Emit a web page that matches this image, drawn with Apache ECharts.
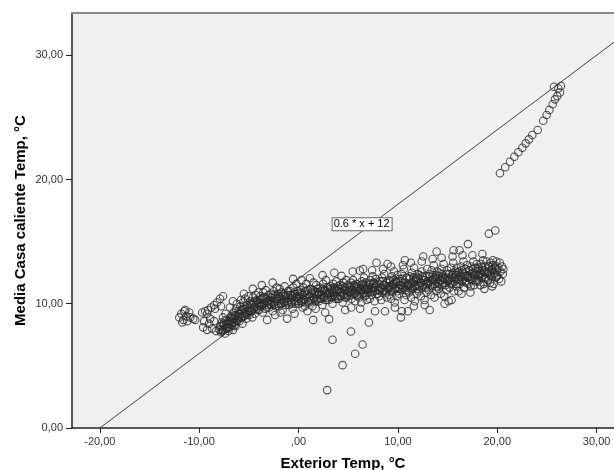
<!DOCTYPE html>
<html>
<head>
<meta charset="utf-8">
<script src="https://cdn.jsdelivr.net/npm/echarts@6/dist/echarts.min.js"></script>
<style>
	html, body { margin: 0; padding: 0; background: #fff; }
	#chart { width: 614px; height: 470px; }
</style>
</head>
<body>
<div id="chart"></div>
<script>
// ticks
var xTicks = [-20, -10, 0, 10, 20, 30];
var yTicks = [0, 10, 20, 30];

// reference line 0.6 * x + 12 (end points)
var fitLine = [[-20, 0], [32, 31.2]];
var fitLabel = '0.6 * x + 12';
var fitLabelAt = [6.4, 16.4];

// small cold cluster at the far left
var coldCluster = [
	[-12.0,8.9],[-11.8,9.2],[-11.6,8.7],[-11.5,9.4],[-11.3,9.0],[-11.2,8.6],[-11.0,9.3],[-10.9,8.9],
	[-10.6,8.8],[-11.7,8.5],[-11.4,9.5],[-10.4,8.7]
];

// main band, loose part
var mainBand = [
	// arms at the left end
	[-9.7,9.3],[-9.4,9.4],[-9.1,9.5],[-8.8,9.7],[-8.5,9.9],[-8.2,10.1],[-7.9,10.4],[-7.6,10.6],[-7.8,9.8],[-8.4,9.6],[-9.2,9.2],
	[-9.6,8.1],[-9.5,8.6],[-9.2,7.9],[-9.0,8.4],[-8.7,8.0],[-8.5,8.6],[-8.3,7.8],[-8.9,8.8],
	// -8 .. -7
	[-7.9,8.2],[-7.8,7.7],[-7.7,8.5],[-7.6,7.9],[-7.5,8.3],[-7.4,7.6],[-7.3,8.7],[-7.2,8.0],[-7.1,8.4],[-7.05,7.8],[-7.6,8.9],[-7.35,9.2],
	// -7 .. -6
	[-6.95,8.1],[-6.9,8.6],[-6.8,9.0],[-6.75,8.3],[-6.7,8.8],[-6.6,7.9],[-6.55,9.3],[-6.5,8.5],[-6.4,9.1],[-6.35,8.2],[-6.3,9.6],
	[-6.25,8.7],[-6.2,10.0],[-6.1,8.9],[-6.05,9.4],[-6.6,10.2],[-6.9,9.7],
	// -6 .. -5
	[-5.95,8.6],[-5.9,9.2],[-5.85,9.8],[-5.8,8.9],[-5.7,9.5],[-5.65,8.4],[-5.6,10.1],[-5.5,9.0],[-5.45,9.6],[-5.4,10.4],[-5.3,9.3],
	[-5.25,8.8],[-5.2,9.9],[-5.1,9.4],[-5.05,10.6],[-5.5,10.8],[-5.8,10.3],
	// -5 .. -4
	[-4.95,9.1],[-4.9,9.7],[-4.85,10.2],[-4.8,9.4],[-4.7,10.0],[-4.65,8.9],[-4.6,10.5],[-4.5,9.6],[-4.45,10.1],[-4.4,9.2],[-4.3,10.7],
	[-4.25,9.9],[-4.2,10.3],[-4.1,9.5],[-4.05,10.9],[-4.6,11.2],
	// -4 .. -3
	[-3.95,9.5],[-3.9,10.1],[-3.85,10.6],[-3.8,9.8],[-3.7,10.4],[-3.6,9.3],[-3.55,10.9],[-3.5,10.0],[-3.4,10.5],[-3.35,9.6],[-3.3,11.1],
	[-3.2,10.2],[-3.16,8.7],[-3.1,9.9],[-3.05,10.7],[-3.7,11.5],
	// -3 .. -2
	[-2.95,9.7],[-2.9,10.3],[-2.8,10.8],[-2.75,9.9],[-2.7,10.5],[-2.6,9.4],[-2.5,11.0],[-2.45,10.1],[-2.4,10.6],[-2.3,9.8],[-2.2,11.3],
	[-2.15,10.4],[-2.1,10.0],[-2.05,10.8],[-2.6,11.7],[-2.35,9.1],
	// -2 .. -1
	[-1.95,9.8],[-1.9,11.2],[-1.82,10.4],[-1.75,10.0],[-1.7,10.9],[-1.6,9.5],[-1.52,10.6],[-1.45,10.2],[-1.4,11.4],[-1.3,9.9],[-1.22,10.7],
	[-1.15,8.8],[-1.1,10.1],[-1.05,11.0],[-1.35,10.4],[-1.8,9.3],
	// -1 .. 0
	[-0.95,9.9],[-0.9,10.5],[-0.82,11.0],[-0.75,10.1],[-0.68,10.7],[-0.6,9.6],[-0.52,11.3],[-0.45,10.3],[-0.38,10.8],[-0.3,10.0],[-0.22,11.6],
	[-0.15,10.6],[-0.1,10.2],[-0.05,11.0],[-0.55,12.0],[-0.4,9.2],
	// 0 .. 1
	[0.05,10.0],[0.12,10.6],[0.2,11.1],[0.27,10.2],[0.33,10.8],[0.41,9.7],[0.48,11.3],[0.55,10.4],[0.62,10.9],[0.7,10.1],[0.78,11.6],
	[0.85,10.7],[0.9,9.4],[0.95,11.1],[0.3,11.9],[0.66,9.8],
	// 1 .. 2
	[1.05,10.1],[1.14,12.05],[1.2,11.2],[1.25,10.3],[1.32,10.9],[1.4,9.8],[1.47,8.7],[1.55,10.5],[1.6,11.0],[1.7,10.2],[1.78,11.5],
	[1.85,10.8],[1.9,10.4],[1.95,11.2],[1.5,11.7],[1.72,9.6],
	// 2 .. 3
	[2.05,10.2],[2.1,10.8],[2.2,11.3],[2.25,10.4],[2.33,11.0],[2.4,9.9],[2.48,11.6],[2.55,10.6],[2.6,11.1],[2.7,10.3],[2.76,11.9],
	[2.85,10.9],[2.9,10.5],[2.95,11.3],[2.42,12.3],[2.68,9.3],
	// 3 .. 4
	[3.05,10.3],[3.08,8.76],[3.16,10.9],[3.2,11.4],[3.27,10.5],[3.34,11.1],[3.42,10.0],[3.5,11.6],[3.56,10.7],[3.63,11.2],[3.7,10.4],
	[3.8,11.8],[3.86,11.0],[3.9,10.6],[3.96,11.4],[3.6,12.5],
	// 4 .. 5
	[4.05,10.4],[4.1,11.0],[4.2,11.5],[4.26,10.6],[4.33,12.24],[4.38,11.2],[4.44,10.1],[4.52,11.7],[4.58,10.8],[4.64,11.3],[4.72,10.5],
	[4.8,11.9],[4.86,11.1],[4.92,10.7],[4.97,11.5],[4.7,9.5],
	// 5 .. 6
	[5.03,10.6],[5.12,11.3],[5.18,10.9],[5.27,11.7],[5.33,10.4],[5.41,11.1],[5.48,11.9],[5.56,10.8],[5.62,11.4],[5.71,10.2],[5.77,11.0],
	[5.84,11.6],[5.9,10.7],[5.97,11.2],[5.45,12.6],[5.3,9.7],
	// 6 .. 7
	[6.04,11.0],[6.1,10.5],[6.17,12.67],[6.23,11.2],[6.31,10.1],[6.38,11.8],[6.44,10.8],[6.52,11.4],[6.59,12.1],[6.66,10.6],[6.73,11.1],
	[6.8,11.7],[6.86,10.3],[6.93,11.3],[6.5,12.8],[6.2,9.6],[6.35,11.5],
	// 7 .. 8
	[7.02,10.9],[7.09,11.5],[7.16,10.4],[7.24,11.9],[7.3,11.2],[7.37,10.7],[7.45,12.2],[7.51,11.0],[7.58,11.6],[7.66,10.2],[7.72,11.3],
	[7.79,12.0],[7.85,13.3],[7.7,9.4],[7.93,10.8],[7.4,12.7],
	// 8 .. 9
	[8.03,11.1],[8.11,10.6],[8.18,11.8],[8.26,11.3],[8.33,10.3],[8.4,12.1],[8.47,10.9],[8.55,11.5],[8.62,12.4],[8.7,9.4],[8.76,11.0],
	[8.84,11.7],[8.9,10.5],[8.96,13.2],[8.98,11.2],[8.5,12.8],
	// 9 .. 10
	[9.04,11.2],[9.12,10.7],[9.19,11.9],[9.25,11.4],[9.33,10.4],[9.4,12.2],[9.47,11.0],[9.54,11.6],[9.61,12.6],[9.68,10.1],[9.75,11.3],
	[9.82,11.8],[9.9,10.6],[9.96,12.3],[9.3,13.0],[9.7,9.7],
	// 10 .. 11
	[10.03,11.3],[10.1,10.8],[10.17,12.0],[10.24,11.5],[10.3,8.9],[10.38,12.4],[10.4,9.4],[10.46,11.1],[10.53,11.7],[10.6,12.8],
	[10.67,10.3],[10.7,13.5],[10.77,11.4],[10.84,10.7],[10.9,12.1],[10.97,11.0],[10.5,13.1],
	// 11 .. 12
	[11.0,9.4],[11.05,11.4],[11.12,10.9],[11.2,12.2],[11.27,11.6],[11.34,10.5],[11.41,12.5],[11.48,11.2],[11.56,11.8],[11.63,12.9],
	[11.7,10.2],[11.77,11.5],[11.84,12.1],[11.9,10.8],[11.97,12.4],[11.3,13.3],[11.6,9.8],
	// 12 .. 13
	[12.04,11.5],[12.1,11.0],[12.18,12.3],[12.25,11.7],[12.32,10.6],[12.4,12.6],[12.46,11.3],[12.55,13.8],[12.6,11.9],[12.68,10.3],
	[12.74,12.2],[12.81,11.6],[12.88,10.9],[12.95,12.8],[12.4,13.4],[12.7,9.9],
	// 13 .. 14
	[13.03,11.6],[13.1,11.1],[13.17,12.4],[13.2,9.5],[13.26,11.8],[13.33,10.7],[13.4,12.7],[13.47,11.4],[13.54,12.0],[13.61,13.1],
	[13.68,10.5],[13.75,11.9],[13.82,12.3],[13.88,11.0],[13.9,14.2],[13.96,12.6],[13.5,13.6],
	// 14 .. 15
	[14.04,11.7],[14.11,11.2],[14.18,12.5],[14.25,11.9],[14.32,10.8],[14.39,12.8],[14.46,11.5],[14.53,12.1],[14.6,13.2],[14.67,10.6],
	[14.74,12.0],[14.81,12.4],[14.88,11.1],[14.95,12.7],[14.4,13.7],[14.7,10.0],
	// 15 .. 16
	[15.03,11.8],[15.1,10.2],[15.12,12.4],[15.2,11.3],[15.27,12.0],[15.4,10.3],[15.35,12.9],[15.43,11.6],[15.5,12.3],[15.57,13.3],
	[15.6,14.3],[15.64,11.0],[15.72,12.1],[15.79,12.6],[15.86,11.4],[15.93,12.9],[15.5,13.8],
	// 16 .. 17
	[16.02,12.0],[16.1,11.0],[16.16,12.6],[16.2,14.3],[16.24,11.6],[16.31,12.3],[16.38,13.0],[16.45,11.8],[16.52,12.5],[16.6,13.4],
	[16.67,11.3],[16.74,12.2],[16.81,12.8],[16.88,11.7],[16.95,13.1],[16.5,13.9],[16.4,10.8],
	// 17 .. 18
	[17.03,12.1],[17.05,14.8],[17.11,11.6],[17.18,12.7],[17.25,12.2],[17.32,11.4],[17.39,13.0],[17.46,11.9],[17.53,12.5],[17.6,13.4],
	[17.67,11.5],[17.74,12.3],[17.81,12.9],[17.88,11.8],[17.95,13.2],[17.5,13.9],[17.3,10.9],
	// 18 .. 19
	[18.02,12.3],[18.09,11.8],[18.16,12.9],[18.23,12.4],[18.3,11.5],[18.37,13.2],[18.44,12.1],[18.51,12.7],[18.58,13.5],[18.65,11.6],
	[18.72,12.5],[18.79,13.0],[18.86,12.0],[18.93,13.4],[18.5,14.0],[18.7,11.2],
	// 19 .. 20.6
	[19.02,12.4],[19.08,11.9],[19.15,13.0],[19.16,15.64],[19.21,12.6],[19.28,11.7],[19.35,13.3],[19.42,12.2],[19.49,12.8],[19.56,13.5],
	[19.63,11.6],[19.7,12.5],[19.77,13.1],[19.8,15.9],[19.84,12.1],[19.91,13.4],[19.96,12.7],[19.5,11.4],
	[20.03,12.3],[20.1,12.9],[20.18,12.0],[20.25,13.3],[20.32,12.6],[20.4,11.8],[20.48,13.0],[20.55,12.4],[20.62,12.8]
];

// main band, dense core
var bandCore = [
	[-7.94,7.9],[-7.81,8.2],[-7.69,7.8],[-7.56,8.4],[-7.44,8.0],[-7.31,8.3],[-7.19,8.1],[-7.06,8.6],
	[-6.94,8.4],[-6.81,8.9],[-6.69,8.5],[-6.56,8.8],[-6.44,8.3],[-6.31,9.0],[-6.19,8.6],[-6.06,9.2],
	[-5.94,9.0],[-5.81,9.4],[-5.69,8.9],[-5.56,9.6],[-5.44,9.2],[-5.31,9.7],[-5.19,9.1],[-5.06,9.5],
	[-4.94,9.5],[-4.81,9.9],[-4.69,9.4],[-4.56,10.1],[-4.44,9.7],[-4.31,10.2],[-4.19,9.6],[-4.06,10.0],
	[-3.94,9.8],[-3.81,10.3],[-3.69,9.9],[-3.56,10.5],[-3.44,10.0],[-3.31,10.4],[-3.19,9.7],[-3.06,10.2],
	[-2.94,10.0],[-2.81,10.5],[-2.69,10.1],[-2.56,10.7],[-2.44,9.9],[-2.31,10.4],[-2.19,10.2],[-2.06,10.6],
	[-1.94,10.5],[-1.81,10.0],[-1.69,10.3],[-1.56,10.8],[-1.44,10.1],[-1.31,10.6],[-1.19,10.2],[-1.06,10.7],
	[-0.94,10.3],[-0.81,10.7],[-0.69,10.0],[-0.56,10.6],[-0.44,10.9],[-0.31,10.2],[-0.19,10.5],[-0.06,10.8],
	[0.06,10.4],[0.19,10.9],[0.31,10.1],[0.44,10.7],[0.56,10.3],[0.69,11.0],[0.81,10.5],[0.94,10.2],
	[1.06,10.5],[1.19,10.2],[1.31,10.8],[1.44,11.1],[1.56,10.4],[1.69,10.9],[1.81,10.3],[1.94,10.7],
	[2.06,10.9],[2.19,10.4],[2.31,10.7],[2.44,11.2],[2.56,10.5],[2.69,11.0],[2.81,10.3],[2.94,10.8],
	[3.06,10.7],[3.19,11.2],[3.31,10.5],[3.44,10.9],[3.56,11.3],[3.69,10.6],[3.81,11.1],[3.94,10.4],
	[4.06,11.2],[4.19,10.6],[4.31,10.9],[4.44,11.4],[4.56,10.7],[4.69,11.1],[4.81,10.5],[4.94,11.0],
	[5.06,10.9],[5.19,11.4],[5.31,10.7],[5.44,11.1],[5.56,11.5],[5.69,10.8],[5.81,11.3],[5.94,10.6],
	[6.06,11.4],[6.19,10.8],[6.31,11.1],[6.44,11.6],[6.56,10.9],[6.69,11.3],[6.81,10.7],[6.94,11.2],
	[7.06,11.1],[7.19,11.6],[7.31,10.9],[7.44,11.3],[7.56,11.7],[7.69,11.0],[7.81,11.5],[7.94,10.8],
	[8.06,11.6],[8.19,11.0],[8.31,11.3],[8.44,11.8],[8.56,11.1],[8.69,11.5],[8.81,10.9],[8.94,11.4],
	[9.06,11.3],[9.19,11.8],[9.31,11.1],[9.44,11.5],[9.56,11.9],[9.69,11.2],[9.81,11.7],[9.94,11.0],
	[10.06,11.8],[10.19,11.2],[10.31,11.5],[10.44,12.0],[10.56,11.3],[10.69,11.7],[10.81,11.1],[10.94,11.6],
	[11.06,11.5],[11.19,12.0],[11.31,11.3],[11.44,11.7],[11.56,12.1],[11.69,11.4],[11.81,11.9],[11.94,11.2],
	[12.06,12.0],[12.19,11.4],[12.31,11.7],[12.44,12.2],[12.56,11.5],[12.69,11.9],[12.81,11.3],[12.94,11.8],
	[13.06,11.7],[13.19,12.2],[13.31,11.5],[13.44,11.9],[13.56,12.3],[13.69,11.6],[13.81,12.1],[13.94,11.4],
	[14.06,12.2],[14.19,11.6],[14.31,11.9],[14.44,12.4],[14.56,11.7],[14.69,12.1],[14.81,11.5],[14.94,12.0],
	[15.06,11.9],[15.19,12.4],[15.31,11.7],[15.44,12.1],[15.56,12.5],[15.69,11.8],[15.81,12.3],[15.94,11.6],
	[16.06,12.5],[16.19,11.9],[16.31,12.2],[16.44,12.7],[16.56,12.0],[16.69,12.4],[16.81,11.8],[16.94,12.3],
	[17.06,12.2],[17.19,12.7],[17.31,12.0],[17.44,12.4],[17.56,12.8],[17.69,12.1],[17.81,12.6],[17.94,11.9],
	[18.06,12.8],[18.19,12.2],[18.31,12.5],[18.44,13.0],[18.56,12.3],[18.69,12.7],[18.81,12.1],[18.94,12.6],
	[19.06,12.5],[19.19,13.0],[19.31,12.3],[19.44,12.7],[19.56,13.1],[19.69,12.4],[19.81,12.9],[19.94,12.2]
];

// points falling below the band
var lowOutliers = [
	[3.42,7.1],[5.27,7.77],[6.44,6.72],[5.7,5.97],[4.43,5.06],[2.88,3.05],[7.08,8.49]
];

// warm days rising to the line
var warmCurve = [
	[20.27,20.5],[20.8,20.98],[21.28,21.43],[21.72,21.83],[22.12,22.19],[22.52,22.56],[22.86,22.91],[23.19,23.23],
	[23.53,23.58],[24.07,23.98],[24.63,24.73],[24.97,25.19],[25.24,25.59],[25.58,26.05],[25.81,26.45],[26.04,26.71],
	[26.31,27.0],[26.41,27.52],[25.71,27.46],[26.14,27.33]
];

var chart = echarts.init(document.getElementById('chart'));

var circleStyle = {
	color: 'rgba(0,0,0,0)',
	borderColor: '#2a2a2a',
	borderWidth: 1.1
};

function scatter(data) {
	return {
		type: 'scatter',
		symbol: 'circle',
		symbolSize: 7.5,
		itemStyle: circleStyle,
		silent: true,
		z: 3,
		data: data
	};
}

var option = {
	animation: false,
	backgroundColor: '#ffffff',
	textStyle: { fontFamily: 'Liberation Sans, Arial, sans-serif' },
	grid: {
		left: 72, top: 13, right: 0, bottom: 42,
		outerBoundsMode: 'none',
		containLabel: false,
		show: true,
		backgroundColor: '#F0F0F0',
		borderWidth: 0
	},
	xAxis: [{
		type: 'value',
		min: -22.8,
		max: 31.75,
		name: 'Exterior Temp, °C',
		nameLocation: 'middle',
		nameGap: 28,
		nameMoveOverlap: false,
		nameTextStyle: { color: '#000', fontSize: 15, fontWeight: 'bold' },
		axisLine: { show: true, onZero: false, lineStyle: { color: '#222', width: 1.5 } },
		axisTick: { show: true, length: 5, customValues: xTicks, lineStyle: { color: '#222' } },
		axisLabel: {
			customValues: xTicks,
			margin: 8,
			color: '#333',
			fontSize: 11,
			formatter: function (v) { return v === 0 ? ',00' : v + ',00'; }
		},
		splitLine: { show: false }
	}, {
		type: 'value',
		position: 'top',
		min: -22.8,
		max: 31.75,
		axisLine: { show: true, onZero: false, lineStyle: { color: '#8a8a8a', width: 2 } },
		axisTick: { show: false },
		axisLabel: { show: false },
		splitLine: { show: false }
	}],
	yAxis: {
		type: 'value',
		min: 0,
		max: 33.4,
		name: 'Media Casa caliente Temp, °C',
		nameLocation: 'middle',
		nameGap: 44,
		nameMoveOverlap: false,
		nameTextStyle: { color: '#000', fontSize: 15, fontWeight: 'bold' },
		axisLine: { show: true, onZero: false, lineStyle: { color: '#222', width: 1.5 } },
		axisTick: { show: true, length: 6, customValues: yTicks, lineStyle: { color: '#222' } },
		axisLabel: {
			customValues: yTicks,
			margin: 9,
			color: '#333',
			fontSize: 11,
			formatter: function (v) { return v + ',00'; }
		},
		splitLine: { show: false }
	},
	series: [
		{
			type: 'line',
			data: fitLine,
			symbol: 'none',
			silent: true,
			clip: true,
			z: 2,
			lineStyle: { color: '#444', width: 1 },
			markPoint: {
				symbol: 'rect',
				symbolSize: 0,
				silent: true,
				data: [{ coord: fitLabelAt }],
				label: {
					show: true,
					formatter: fitLabel,
					position: 'inside',
					color: '#000',
					fontSize: 11,
					backgroundColor: '#fff',
					borderColor: '#666',
					borderWidth: 1,
					padding: [1, 2, 0, 1]
				}
			}
		},
		scatter(coldCluster),
		scatter(mainBand),
		scatter(bandCore),
		scatter(lowOutliers),
		scatter(warmCurve)
	]
};

chart.setOption(option);
</script>
</body>
</html>
